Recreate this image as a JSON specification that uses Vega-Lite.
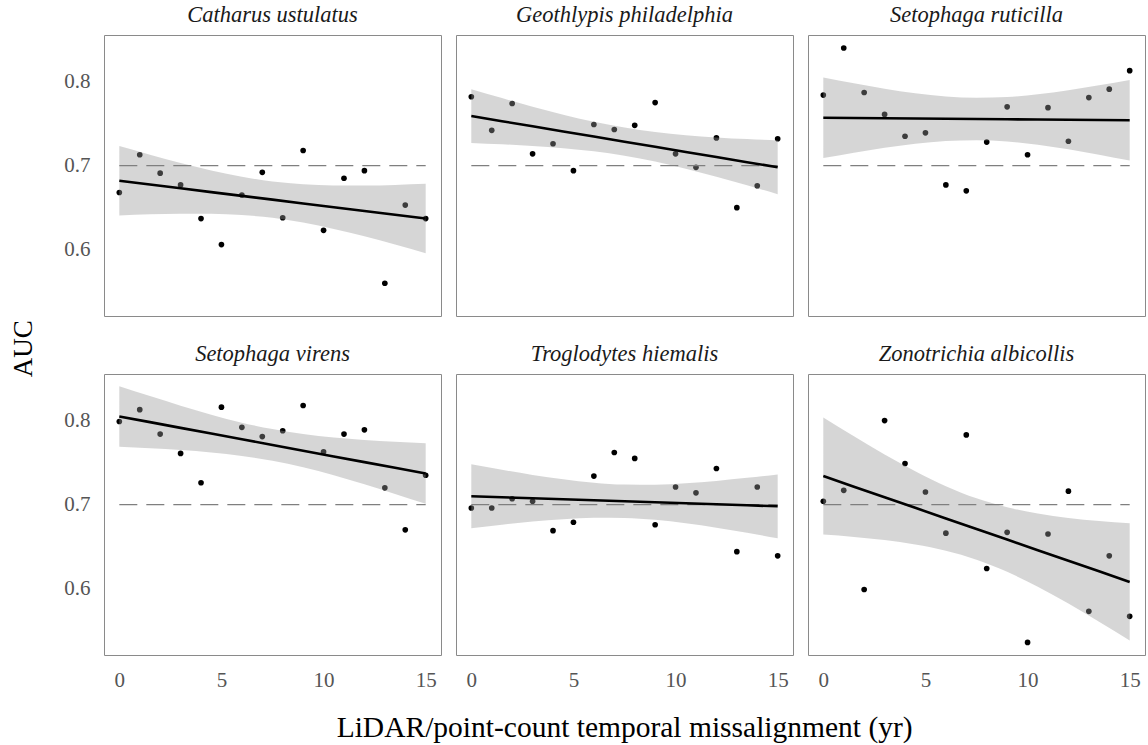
{
  "$schema": "https://vega.github.io/schema/vega-lite/v6.json",
  "background": "white",
  "padding": {"left": 9, "top": 3, "right": 1, "bottom": 2},
  "title": {"text": "AUC", "orient": "left", "anchor": "middle", "font": "Liberation Serif", "fontSize": 27, "fontWeight": "normal", "color": "#000000", "offset": 26, "dx": 24},
  "hconcat": [{
  "title": {"text": "LiDAR/point-count temporal missalignment (yr)", "orient": "bottom", "anchor": "middle", "font": "Liberation Serif", "fontSize": 29.5, "fontWeight": "normal", "color": "#000000", "offset": 24, "dx": 20},
  "data": {"values": [
    {"sp":"Catharus ustulatus","x":0,"auc":0.668},{"sp":"Catharus ustulatus","x":1,"auc":0.713},{"sp":"Catharus ustulatus","x":2,"auc":0.691},{"sp":"Catharus ustulatus","x":3,"auc":0.677},{"sp":"Catharus ustulatus","x":4,"auc":0.637},{"sp":"Catharus ustulatus","x":5,"auc":0.606},{"sp":"Catharus ustulatus","x":6,"auc":0.665},{"sp":"Catharus ustulatus","x":7,"auc":0.692},{"sp":"Catharus ustulatus","x":8,"auc":0.638},{"sp":"Catharus ustulatus","x":9,"auc":0.718},{"sp":"Catharus ustulatus","x":10,"auc":0.623},{"sp":"Catharus ustulatus","x":11,"auc":0.685},{"sp":"Catharus ustulatus","x":12,"auc":0.694},{"sp":"Catharus ustulatus","x":13,"auc":0.560},{"sp":"Catharus ustulatus","x":14,"auc":0.653},{"sp":"Catharus ustulatus","x":15,"auc":0.637},
    {"sp":"Geothlypis philadelphia","x":0,"auc":0.782},{"sp":"Geothlypis philadelphia","x":1,"auc":0.742},{"sp":"Geothlypis philadelphia","x":2,"auc":0.774},{"sp":"Geothlypis philadelphia","x":3,"auc":0.714},{"sp":"Geothlypis philadelphia","x":4,"auc":0.726},{"sp":"Geothlypis philadelphia","x":5,"auc":0.694},{"sp":"Geothlypis philadelphia","x":6,"auc":0.749},{"sp":"Geothlypis philadelphia","x":7,"auc":0.743},{"sp":"Geothlypis philadelphia","x":8,"auc":0.748},{"sp":"Geothlypis philadelphia","x":9,"auc":0.775},{"sp":"Geothlypis philadelphia","x":10,"auc":0.714},{"sp":"Geothlypis philadelphia","x":11,"auc":0.698},{"sp":"Geothlypis philadelphia","x":12,"auc":0.733},{"sp":"Geothlypis philadelphia","x":13,"auc":0.650},{"sp":"Geothlypis philadelphia","x":14,"auc":0.676},{"sp":"Geothlypis philadelphia","x":15,"auc":0.732},
    {"sp":"Setophaga ruticilla","x":0,"auc":0.784},{"sp":"Setophaga ruticilla","x":1,"auc":0.840},{"sp":"Setophaga ruticilla","x":2,"auc":0.787},{"sp":"Setophaga ruticilla","x":3,"auc":0.761},{"sp":"Setophaga ruticilla","x":4,"auc":0.735},{"sp":"Setophaga ruticilla","x":5,"auc":0.739},{"sp":"Setophaga ruticilla","x":6,"auc":0.677},{"sp":"Setophaga ruticilla","x":7,"auc":0.670},{"sp":"Setophaga ruticilla","x":8,"auc":0.728},{"sp":"Setophaga ruticilla","x":9,"auc":0.770},{"sp":"Setophaga ruticilla","x":10,"auc":0.713},{"sp":"Setophaga ruticilla","x":11,"auc":0.769},{"sp":"Setophaga ruticilla","x":12,"auc":0.729},{"sp":"Setophaga ruticilla","x":13,"auc":0.781},{"sp":"Setophaga ruticilla","x":14,"auc":0.791},{"sp":"Setophaga ruticilla","x":15,"auc":0.813},
    {"sp":"Setophaga virens","x":0,"auc":0.799},{"sp":"Setophaga virens","x":1,"auc":0.813},{"sp":"Setophaga virens","x":2,"auc":0.784},{"sp":"Setophaga virens","x":3,"auc":0.761},{"sp":"Setophaga virens","x":4,"auc":0.726},{"sp":"Setophaga virens","x":5,"auc":0.816},{"sp":"Setophaga virens","x":6,"auc":0.792},{"sp":"Setophaga virens","x":7,"auc":0.781},{"sp":"Setophaga virens","x":8,"auc":0.788},{"sp":"Setophaga virens","x":9,"auc":0.818},{"sp":"Setophaga virens","x":10,"auc":0.763},{"sp":"Setophaga virens","x":11,"auc":0.784},{"sp":"Setophaga virens","x":12,"auc":0.789},{"sp":"Setophaga virens","x":13,"auc":0.720},{"sp":"Setophaga virens","x":14,"auc":0.670},{"sp":"Setophaga virens","x":15,"auc":0.735},
    {"sp":"Troglodytes hiemalis","x":0,"auc":0.696},{"sp":"Troglodytes hiemalis","x":1,"auc":0.696},{"sp":"Troglodytes hiemalis","x":2,"auc":0.707},{"sp":"Troglodytes hiemalis","x":3,"auc":0.704},{"sp":"Troglodytes hiemalis","x":4,"auc":0.669},{"sp":"Troglodytes hiemalis","x":5,"auc":0.679},{"sp":"Troglodytes hiemalis","x":6,"auc":0.734},{"sp":"Troglodytes hiemalis","x":7,"auc":0.762},{"sp":"Troglodytes hiemalis","x":8,"auc":0.755},{"sp":"Troglodytes hiemalis","x":9,"auc":0.676},{"sp":"Troglodytes hiemalis","x":10,"auc":0.721},{"sp":"Troglodytes hiemalis","x":11,"auc":0.714},{"sp":"Troglodytes hiemalis","x":12,"auc":0.743},{"sp":"Troglodytes hiemalis","x":13,"auc":0.644},{"sp":"Troglodytes hiemalis","x":14,"auc":0.721},{"sp":"Troglodytes hiemalis","x":15,"auc":0.639},
    {"sp":"Zonotrichia albicollis","x":0,"auc":0.704},{"sp":"Zonotrichia albicollis","x":1,"auc":0.717},{"sp":"Zonotrichia albicollis","x":2,"auc":0.599},{"sp":"Zonotrichia albicollis","x":3,"auc":0.800},{"sp":"Zonotrichia albicollis","x":4,"auc":0.749},{"sp":"Zonotrichia albicollis","x":5,"auc":0.715},{"sp":"Zonotrichia albicollis","x":6,"auc":0.666},{"sp":"Zonotrichia albicollis","x":7,"auc":0.783},{"sp":"Zonotrichia albicollis","x":8,"auc":0.624},{"sp":"Zonotrichia albicollis","x":9,"auc":0.667},{"sp":"Zonotrichia albicollis","x":10,"auc":0.536},{"sp":"Zonotrichia albicollis","x":11,"auc":0.665},{"sp":"Zonotrichia albicollis","x":12,"auc":0.716},{"sp":"Zonotrichia albicollis","x":13,"auc":0.573},{"sp":"Zonotrichia albicollis","x":14,"auc":0.639},{"sp":"Zonotrichia albicollis","x":15,"auc":0.567},

    {"sp":"Catharus ustulatus","t":0,"fit":0.682,"lo":0.6407,"hi":0.7233},{"sp":"Catharus ustulatus","t":1.5,"fit":0.6775,"lo":0.642,"hi":0.713},{"sp":"Catharus ustulatus","t":3,"fit":0.673,"lo":0.6428,"hi":0.7032},{"sp":"Catharus ustulatus","t":4.5,"fit":0.6685,"lo":0.6427,"hi":0.6943},{"sp":"Catharus ustulatus","t":6,"fit":0.664,"lo":0.6412,"hi":0.6868},{"sp":"Catharus ustulatus","t":7.5,"fit":0.6595,"lo":0.6379,"hi":0.6811},{"sp":"Catharus ustulatus","t":9,"fit":0.655,"lo":0.6322,"hi":0.6778},{"sp":"Catharus ustulatus","t":10.5,"fit":0.6505,"lo":0.6247,"hi":0.6763},{"sp":"Catharus ustulatus","t":12,"fit":0.646,"lo":0.6158,"hi":0.6762},{"sp":"Catharus ustulatus","t":13.5,"fit":0.6415,"lo":0.606,"hi":0.677},{"sp":"Catharus ustulatus","t":15,"fit":0.637,"lo":0.5957,"hi":0.6783},
    {"sp":"Geothlypis philadelphia","t":0,"fit":0.759,"lo":0.727,"hi":0.791},{"sp":"Geothlypis philadelphia","t":1.5,"fit":0.7529,"lo":0.7254,"hi":0.7804},{"sp":"Geothlypis philadelphia","t":3,"fit":0.7468,"lo":0.7234,"hi":0.7702},{"sp":"Geothlypis philadelphia","t":4.5,"fit":0.7407,"lo":0.7207,"hi":0.7607},{"sp":"Geothlypis philadelphia","t":6,"fit":0.7346,"lo":0.717,"hi":0.7522},{"sp":"Geothlypis philadelphia","t":7.5,"fit":0.7285,"lo":0.7117,"hi":0.7453},{"sp":"Geothlypis philadelphia","t":9,"fit":0.7224,"lo":0.7048,"hi":0.74},{"sp":"Geothlypis philadelphia","t":10.5,"fit":0.7163,"lo":0.6963,"hi":0.7363},{"sp":"Geothlypis philadelphia","t":12,"fit":0.7102,"lo":0.6868,"hi":0.7336},{"sp":"Geothlypis philadelphia","t":13.5,"fit":0.7041,"lo":0.6766,"hi":0.7316},{"sp":"Geothlypis philadelphia","t":15,"fit":0.698,"lo":0.666,"hi":0.73},
    {"sp":"Setophaga ruticilla","t":0,"fit":0.757,"lo":0.709,"hi":0.805},{"sp":"Setophaga ruticilla","t":1.5,"fit":0.7567,"lo":0.7154,"hi":0.798},{"sp":"Setophaga ruticilla","t":3,"fit":0.7564,"lo":0.7213,"hi":0.7915},{"sp":"Setophaga ruticilla","t":4.5,"fit":0.7561,"lo":0.7261,"hi":0.7861},{"sp":"Setophaga ruticilla","t":6,"fit":0.7558,"lo":0.7294,"hi":0.7822},{"sp":"Setophaga ruticilla","t":7.5,"fit":0.7555,"lo":0.7303,"hi":0.7807},{"sp":"Setophaga ruticilla","t":9,"fit":0.7552,"lo":0.7288,"hi":0.7816},{"sp":"Setophaga ruticilla","t":10.5,"fit":0.7549,"lo":0.7249,"hi":0.7849},{"sp":"Setophaga ruticilla","t":12,"fit":0.7546,"lo":0.7195,"hi":0.7897},{"sp":"Setophaga ruticilla","t":13.5,"fit":0.7543,"lo":0.713,"hi":0.7956},{"sp":"Setophaga ruticilla","t":15,"fit":0.754,"lo":0.706,"hi":0.802},
    {"sp":"Setophaga virens","t":0,"fit":0.805,"lo":0.769,"hi":0.841},{"sp":"Setophaga virens","t":1.5,"fit":0.7982,"lo":0.7672,"hi":0.8292},{"sp":"Setophaga virens","t":3,"fit":0.7914,"lo":0.765,"hi":0.8178},{"sp":"Setophaga virens","t":4.5,"fit":0.7846,"lo":0.7621,"hi":0.8071},{"sp":"Setophaga virens","t":6,"fit":0.7778,"lo":0.758,"hi":0.7976},{"sp":"Setophaga virens","t":7.5,"fit":0.771,"lo":0.7521,"hi":0.7899},{"sp":"Setophaga virens","t":9,"fit":0.7642,"lo":0.7444,"hi":0.784},{"sp":"Setophaga virens","t":10.5,"fit":0.7574,"lo":0.7349,"hi":0.7799},{"sp":"Setophaga virens","t":12,"fit":0.7506,"lo":0.7242,"hi":0.777},{"sp":"Setophaga virens","t":13.5,"fit":0.7438,"lo":0.7128,"hi":0.7748},{"sp":"Setophaga virens","t":15,"fit":0.737,"lo":0.701,"hi":0.773},
    {"sp":"Troglodytes hiemalis","t":0,"fit":0.71,"lo":0.672,"hi":0.748},{"sp":"Troglodytes hiemalis","t":1.5,"fit":0.7088,"lo":0.6761,"hi":0.7415},{"sp":"Troglodytes hiemalis","t":3,"fit":0.7076,"lo":0.6798,"hi":0.7354},{"sp":"Troglodytes hiemalis","t":4.5,"fit":0.7064,"lo":0.6826,"hi":0.7302},{"sp":"Troglodytes hiemalis","t":6,"fit":0.7052,"lo":0.6843,"hi":0.7261},{"sp":"Troglodytes hiemalis","t":7.5,"fit":0.704,"lo":0.6841,"hi":0.7239},{"sp":"Troglodytes hiemalis","t":9,"fit":0.7028,"lo":0.6819,"hi":0.7237},{"sp":"Troglodytes hiemalis","t":10.5,"fit":0.7016,"lo":0.6778,"hi":0.7254},{"sp":"Troglodytes hiemalis","t":12,"fit":0.7004,"lo":0.6726,"hi":0.7282},{"sp":"Troglodytes hiemalis","t":13.5,"fit":0.6992,"lo":0.6665,"hi":0.7319},{"sp":"Troglodytes hiemalis","t":15,"fit":0.698,"lo":0.66,"hi":0.736},
    {"sp":"Zonotrichia albicollis","t":0,"fit":0.734,"lo":0.6643,"hi":0.8037},{"sp":"Zonotrichia albicollis","t":1.5,"fit":0.7214,"lo":0.6615,"hi":0.7813},{"sp":"Zonotrichia albicollis","t":3,"fit":0.7088,"lo":0.6578,"hi":0.7598},{"sp":"Zonotrichia albicollis","t":4.5,"fit":0.6962,"lo":0.6526,"hi":0.7398},{"sp":"Zonotrichia albicollis","t":6,"fit":0.6836,"lo":0.6452,"hi":0.722},{"sp":"Zonotrichia albicollis","t":7.5,"fit":0.671,"lo":0.6345,"hi":0.7075},{"sp":"Zonotrichia albicollis","t":9,"fit":0.6584,"lo":0.62,"hi":0.6968},{"sp":"Zonotrichia albicollis","t":10.5,"fit":0.6458,"lo":0.6022,"hi":0.6894},{"sp":"Zonotrichia albicollis","t":12,"fit":0.6332,"lo":0.5822,"hi":0.6842},{"sp":"Zonotrichia albicollis","t":13.5,"fit":0.6206,"lo":0.5607,"hi":0.6805},{"sp":"Zonotrichia albicollis","t":15,"fit":0.608,"lo":0.5383,"hi":0.6777}
  ]},
  "facet": {
    "field": "sp", "type": "nominal",
    "sort": ["Catharus ustulatus","Geothlypis philadelphia","Setophaga ruticilla","Setophaga virens","Troglodytes hiemalis","Zonotrichia albicollis"],
    "header": {"title": null, "labelFont": "Liberation Serif", "labelFontStyle": "italic", "labelFontSize": 22.5, "labelColor": "#1a1a1a", "labelPadding": 9}
  },
  "columns": 3,
  "spacing": {"column": 13, "row": 25},
  "spec": {
    "width": 337,
    "height": 281,
    "layer": [
      {
        "transform": [{"filter": "isValid(datum.auc)"}],
        "mark": {"type": "point", "filled": true, "color": "#000000", "opacity": 1, "size": 32},
        "encoding": {
          "x": {"field": "x", "type": "quantitative", "scale": {"domain": [-0.75, 15.75], "nice": false, "zero": false},
                "axis": {"values": [0, 5, 10, 15], "title": null}},
          "y": {"field": "auc", "type": "quantitative", "scale": {"domain": [0.521, 0.8555], "nice": false, "zero": false},
                "axis": {"values": [0.6, 0.7, 0.8], "format": ".1f", "title": null}}
        }
      },
      {
        "transform": [{"filter": "isValid(datum.lo)"}],
        "mark": {"type": "area", "color": "#999999", "opacity": 0.4, "interpolate": "monotone"},
        "encoding": {
          "x": {"field": "t", "type": "quantitative"},
          "y": {"field": "lo", "type": "quantitative"},
          "y2": {"field": "hi"}
        }
      },
      {
        "transform": [{"filter": "isValid(datum.lo) && datum.t === 0"}],
        "mark": {"type": "rule", "color": "#7f7f7f", "strokeWidth": 1.1, "strokeDash": [18, 9]},
        "encoding": {
          "x": {"datum": 0},
          "x2": {"datum": 15},
          "y": {"datum": 0.7}
        }
      },
      {
        "transform": [{"filter": "isValid(datum.lo)"}],
        "mark": {"type": "line", "color": "#000000", "strokeWidth": 2.6},
        "encoding": {
          "x": {"field": "t", "type": "quantitative"},
          "y": {"field": "fit", "type": "quantitative"}
        }
      }
    ]
  }
  }],
  "config": {
    "font": "Liberation Serif",
    "view": {"stroke": "#8a8a8a", "strokeWidth": 1},
    "axis": {"grid": false, "ticks": false, "domain": false, "labelFont": "Liberation Serif", "labelFontSize": 21, "labelColor": "#555555", "titleFont": "Liberation Serif", "titleFontWeight": "normal", "titleColor": "#000000"},
    "axisX": {"labelPadding": 13},
    "axisY": {"labelPadding": 13}
  }
}
